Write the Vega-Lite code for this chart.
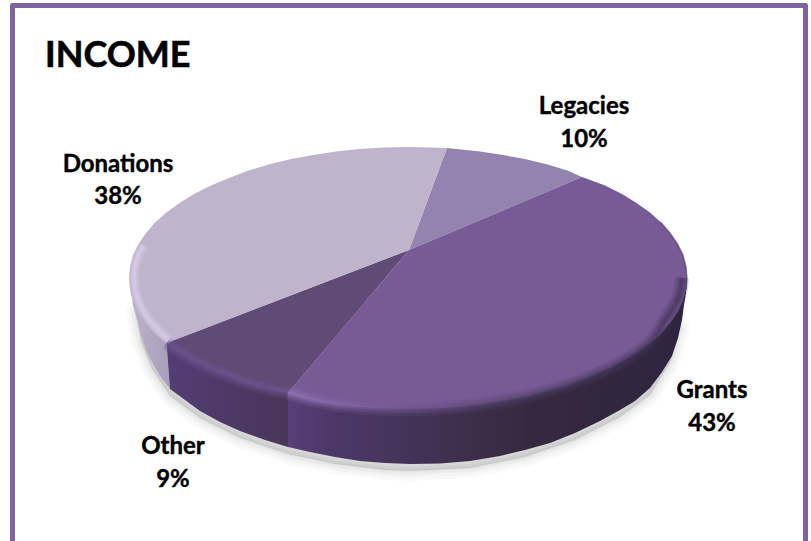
{
  "$schema": "https://vega.github.io/schema/vega-lite/v6.json",
  "width": 811,
  "height": 541,
  "padding": 0,
  "autosize": {"type": "fit", "contains": "padding"},
  "background": "white",
  "view": {"stroke": null},
  "projection": {"type": "identity", "scale": 1, "translate": [0, 0]},
  "datasets": {
    "frame": [
      {"type": "Feature", "properties": {"part": "frame"}, "geometry": {"type": "LineString", "coordinates": [[12.5, 541], [12.5, 5.5], [805.5, 5.5], [805.5, 541]]}}
    ],
    "shadow": [
      {"type": "Feature", "properties": {"part": "shadow"}, "geometry": {"type": "Polygon", "coordinates": [[[136, 312], [141, 342], [152, 369], [170, 396], [200, 418], [240, 438], [288, 454], [335, 464], [385, 470], [410, 471], [470, 468], [525, 457], [575, 440], [620, 417], [650, 395], [670, 363], [680, 327], [410, 300], [136, 312]]]}}
    ],
    "sides": [
      {"type": "Feature", "properties": {"slice": "Donations"}, "geometry": {"type": "Polygon", "coordinates": [[[129.5, 278], [130, 283], [131, 292], [133, 305], [137, 320], [141, 335], [146, 350], [152, 362], [160, 376], [170, 389], [166.5, 343], [129.5, 278]]]}},
      {"type": "Feature", "properties": {"slice": "Other"}, "geometry": {"type": "Polygon", "coordinates": [[[166.5, 343], [170, 389], [185, 400], [200, 411], [220, 422], [240, 431], [265, 440], [288, 447], [288, 393], [166.5, 343]]]}},
      {"type": "Feature", "properties": {"slice": "Grants"}, "geometry": {"type": "Polygon", "coordinates": [[[288, 393], [288, 447], [310, 452], [335, 457], [360, 461], [385, 463], [410, 464], [440, 463.5], [470, 461], [500, 456], [525, 450], [550, 443], [575, 433], [600, 421], [620, 410], [635, 401], [650, 388], [662, 372], [672, 356], [678, 338], [682, 320], [684, 305], [686, 293], [687, 278], [288, 393]]]}}
    ],
    "tops": [
      {"type": "Feature", "properties": {"slice": "Legacies", "share": 0.10}, "geometry": {"type": "Polygon", "coordinates": [[[409, 250], [447, 148], [456.5, 149], [480, 151.5], [503, 155], [526, 159.3], [547.5, 164.5], [568, 170.7], [582, 177], [409, 250]]]}},
      {"type": "Feature", "properties": {"slice": "Grants", "share": 0.43}, "geometry": {"type": "Polygon", "coordinates": [[[409, 250], [582, 177], [605, 185.4], [622, 194], [636.5, 203], [650, 212.5], [661, 222.6], [670, 233], [677.5, 244], [683, 255], [686, 266.6], [687, 278], [686, 289.4], [683, 301], [677.5, 312], [670, 323], [661, 333.4], [650, 343.5], [636.5, 353], [622, 362], [605, 370.6], [587, 378], [568, 385.3], [547.5, 391], [526, 396.7], [503, 401], [480, 404.5], [456.5, 407], [432.3, 408.5], [408, 409], [383.7, 408.5], [359.5, 407], [336, 404.5], [313, 400], [288, 393], [409, 250]]]}},
      {"type": "Feature", "properties": {"slice": "Other", "share": 0.09}, "geometry": {"type": "Polygon", "coordinates": [[[409, 250], [288, 393], [268.5, 389], [248, 383.5], [229, 376], [211, 369], [194, 360.5], [179.5, 352], [166.5, 343], [409, 250]]]}},
      {"type": "Feature", "properties": {"slice": "Donations", "share": 0.38}, "geometry": {"type": "Polygon", "coordinates": [[[409, 250], [166.5, 343], [155, 333.4], [146, 323], [138.5, 312], [133, 301], [130, 289.4], [129, 278], [130, 266.6], [133, 255], [138.5, 244], [146, 233], [155, 222.6], [166.5, 212.5], [179.5, 203], [194, 194], [211, 185.4], [229, 178], [248, 170.7], [268.5, 164.5], [290, 159.3], [313, 155], [336, 151.5], [359.5, 149], [383.7, 147.5], [408, 147], [432.3, 147.5], [447, 148], [409, 250]]]}}
    ],
    "rims": [
      {"type": "Feature", "properties": {"rim": "Donations"}, "geometry": {"type": "LineString", "coordinates": [[170.7, 341.5], [159.8, 331.7], [150.5, 321.4], [143.3, 310.9], [138.1, 300], [135, 289], [134, 278], [135, 267], [138, 256], [143.3, 245]]}},
      {"type": "Feature", "properties": {"rim": "Other"}, "geometry": {"type": "LineString", "coordinates": [[288, 393], [268.5, 389], [248, 383.5], [229, 376], [211, 369], [194, 360.5], [179.5, 352], [166.5, 343]]}},
      {"type": "Feature", "properties": {"rim": "Grants"}, "geometry": {"type": "LineString", "coordinates": [[288, 393], [313, 400], [336, 404.5], [359.5, 407], [383.7, 408.5], [408, 409], [432.3, 408.5], [456.5, 407], [480, 404.5], [503, 401], [526, 396.7], [547.5, 391], [568, 385.3], [587, 378], [605, 370.6], [622, 362], [636.5, 353], [650, 343.5], [659, 331], [665, 320], [672, 310], [678, 299], [681, 288], [682, 278]]}},
      {"type": "Feature", "properties": {"rim": "Crest"}, "geometry": {"type": "LineString", "coordinates": [[661, 222.6], [670, 233], [677.5, 244], [683, 255], [686, 266.6], [687, 278], [686, 289.4]]}}
    ],
    "labels": [
      {"name": "Legacies", "share": 0.10, "x": 584, "nameY": 107, "shareY": 140},
      {"name": "Donations", "share": 0.38, "x": 118, "nameY": 165, "shareY": 197},
      {"name": "Grants", "share": 0.43, "x": 712, "nameY": 391, "shareY": 424},
      {"name": "Other", "share": 0.09, "x": 173, "nameY": 447, "shareY": 480}
    ]
  },
  "layer": [
    {"data": {"name": "shadow"}, "mark": {"type": "geoshape", "fill": "#000000", "fillOpacity": 0.03, "stroke": "#000000", "strokeOpacity": 0.02, "strokeWidth": 20, "strokeJoin": "round"}},
    {"data": {"name": "shadow"}, "mark": {"type": "geoshape", "fill": "#000000", "fillOpacity": 0.03, "stroke": "#000000", "strokeOpacity": 0.025, "strokeWidth": 14, "strokeJoin": "round"}},
    {"data": {"name": "shadow"}, "mark": {"type": "geoshape", "fill": "#000000", "fillOpacity": 0.03, "stroke": "#000000", "strokeOpacity": 0.03, "strokeWidth": 8, "strokeJoin": "round"}},
    {"data": {"name": "shadow"}, "mark": {"type": "geoshape", "fill": "#000000", "fillOpacity": 0.02, "stroke": "#000000", "strokeOpacity": 0.03, "strokeWidth": 3, "strokeJoin": "round"}},
    {
      "data": {"name": "sides"},
      "transform": [{"filter": "datum.properties.slice === 'Donations'"}],
      "mark": {"type": "geoshape", "fill": {"gradient": "linear", "x1": 0, "y1": 0, "x2": 1, "y2": 0, "stops": [{"offset": 0, "color": "#bcb2cc"}, {"offset": 1, "color": "#a89ebb"}]}}
    },
    {
      "data": {"name": "sides"},
      "transform": [{"filter": "datum.properties.slice === 'Other'"}],
      "mark": {"type": "geoshape", "fill": {"gradient": "linear", "x1": 0, "y1": 0, "x2": 1, "y2": 0, "stops": [{"offset": 0, "color": "#523d74"}, {"offset": 1, "color": "#483659"}]}}
    },
    {
      "data": {"name": "sides"},
      "transform": [{"filter": "datum.properties.slice === 'Grants'"}],
      "mark": {"type": "geoshape", "fill": {"gradient": "linear", "x1": 0, "y1": 0, "x2": 1, "y2": 0, "stops": [{"offset": 0, "color": "#564079"}, {"offset": 0.1, "color": "#4c3969"}, {"offset": 0.3, "color": "#443358"}, {"offset": 0.6, "color": "#36293f"}, {"offset": 1, "color": "#2f2440"}]}}
    },
    {
      "data": {"name": "tops"},
      "mark": {"type": "geoshape"},
      "encoding": {
        "color": {
          "field": "properties.slice",
          "type": "nominal",
          "legend": null,
          "scale": {"domain": ["Legacies", "Grants", "Other", "Donations"], "range": ["#9483ae", "#775a96", "#604a76", "#c0b4cd"]}
        }
      }
    },
    {"data": {"name": "rims"}, "transform": [{"filter": "datum.properties.rim === 'Donations'"}], "mark": {"type": "geoshape", "filled": false, "stroke": "#d9d1ea", "strokeWidth": 10, "strokeOpacity": 0.25, "strokeCap": "butt"}},
    {"data": {"name": "rims"}, "transform": [{"filter": "datum.properties.rim === 'Donations'"}], "mark": {"type": "geoshape", "filled": false, "stroke": "#d9d1ea", "strokeWidth": 6, "strokeOpacity": 0.35, "strokeCap": "butt"}},
    {"data": {"name": "rims"}, "transform": [{"filter": "datum.properties.rim === 'Donations'"}], "mark": {"type": "geoshape", "filled": false, "stroke": "#d9d1ea", "strokeWidth": 3, "strokeOpacity": 0.4, "strokeCap": "butt"}},
    {"data": {"name": "rims"}, "transform": [{"filter": "datum.properties.rim === 'Other'"}], "mark": {"type": "geoshape", "filled": false, "stroke": "#6f5694", "strokeWidth": 14, "strokeOpacity": 0.2, "strokeCap": "butt"}},
    {"data": {"name": "rims"}, "transform": [{"filter": "datum.properties.rim === 'Other'"}], "mark": {"type": "geoshape", "filled": false, "stroke": "#6f5694", "strokeWidth": 9, "strokeOpacity": 0.3, "strokeCap": "butt"}},
    {"data": {"name": "rims"}, "transform": [{"filter": "datum.properties.rim === 'Other'"}], "mark": {"type": "geoshape", "filled": false, "stroke": "#6f5694", "strokeWidth": 4, "strokeOpacity": 0.4, "strokeCap": "butt"}},
    {"data": {"name": "rims"}, "transform": [{"filter": "datum.properties.rim === 'Grants'"}], "mark": {"type": "geoshape", "filled": false, "strokeWidth": 14, "strokeOpacity": 0.2, "strokeCap": "butt", "stroke": {"gradient": "linear", "x1": 0, "y1": 0, "x2": 1, "y2": 0, "stops": [{"offset": 0, "color": "#8f74b3"}, {"offset": 0.3, "color": "#71558f"}, {"offset": 0.55, "color": "#54416a"}, {"offset": 1, "color": "#3f3052"}]}}},
    {"data": {"name": "rims"}, "transform": [{"filter": "datum.properties.rim === 'Grants'"}], "mark": {"type": "geoshape", "filled": false, "strokeWidth": 9, "strokeOpacity": 0.3, "strokeCap": "butt", "stroke": {"gradient": "linear", "x1": 0, "y1": 0, "x2": 1, "y2": 0, "stops": [{"offset": 0, "color": "#9075b6"}, {"offset": 0.3, "color": "#71558f"}, {"offset": 0.55, "color": "#54416a"}, {"offset": 1, "color": "#3f3052"}]}}},
    {"data": {"name": "rims"}, "transform": [{"filter": "datum.properties.rim === 'Grants'"}], "mark": {"type": "geoshape", "filled": false, "strokeWidth": 4, "strokeOpacity": 0.45, "strokeCap": "butt", "stroke": {"gradient": "linear", "x1": 0, "y1": 0, "x2": 1, "y2": 0, "stops": [{"offset": 0, "color": "#9a80bf"}, {"offset": 0.3, "color": "#71558f"}, {"offset": 0.55, "color": "#54416a"}, {"offset": 1, "color": "#3f3052"}]}}},
    {"data": {"name": "rims"}, "transform": [{"filter": "datum.properties.rim === 'Crest'"}], "mark": {"type": "geoshape", "filled": false, "stroke": "#3f3052", "strokeWidth": 1.5, "strokeOpacity": 0.5, "strokeCap": "round"}},
    {"data": {"name": "frame"}, "mark": {"type": "geoshape", "filled": false, "stroke": "#8064a2", "strokeWidth": 5, "strokeJoin": "round"}},
    {
      "data": {"values": [{"heading": "INCOME", "x": 45, "y": 56}]},
      "mark": {"type": "text", "font": "Lato", "fontWeight": "bold", "fontSize": 36, "align": "left", "baseline": "middle", "color": "#000000", "stroke": "#000000", "strokeWidth": 0.6},
      "encoding": {
        "longitude": {"field": "x", "type": "quantitative"},
        "latitude": {"field": "y", "type": "quantitative"},
        "text": {"field": "heading", "type": "nominal"}
      }
    },
    {
      "data": {"name": "labels"},
      "mark": {"type": "text", "font": "Lato", "fontWeight": "bold", "fontSize": 24, "baseline": "middle", "color": "#000000", "stroke": "#000000", "strokeWidth": 0.4},
      "encoding": {
        "longitude": {"field": "x", "type": "quantitative"},
        "latitude": {"field": "nameY", "type": "quantitative"},
        "text": {"field": "name", "type": "nominal"}
      }
    },
    {
      "data": {"name": "labels"},
      "mark": {"type": "text", "font": "Lato", "fontWeight": "bold", "fontSize": 24, "baseline": "middle", "color": "#000000", "stroke": "#000000", "strokeWidth": 0.4},
      "encoding": {
        "longitude": {"field": "x", "type": "quantitative"},
        "latitude": {"field": "shareY", "type": "quantitative"},
        "text": {"field": "share", "type": "quantitative", "format": ".0%"}
      }
    }
  ]
}
